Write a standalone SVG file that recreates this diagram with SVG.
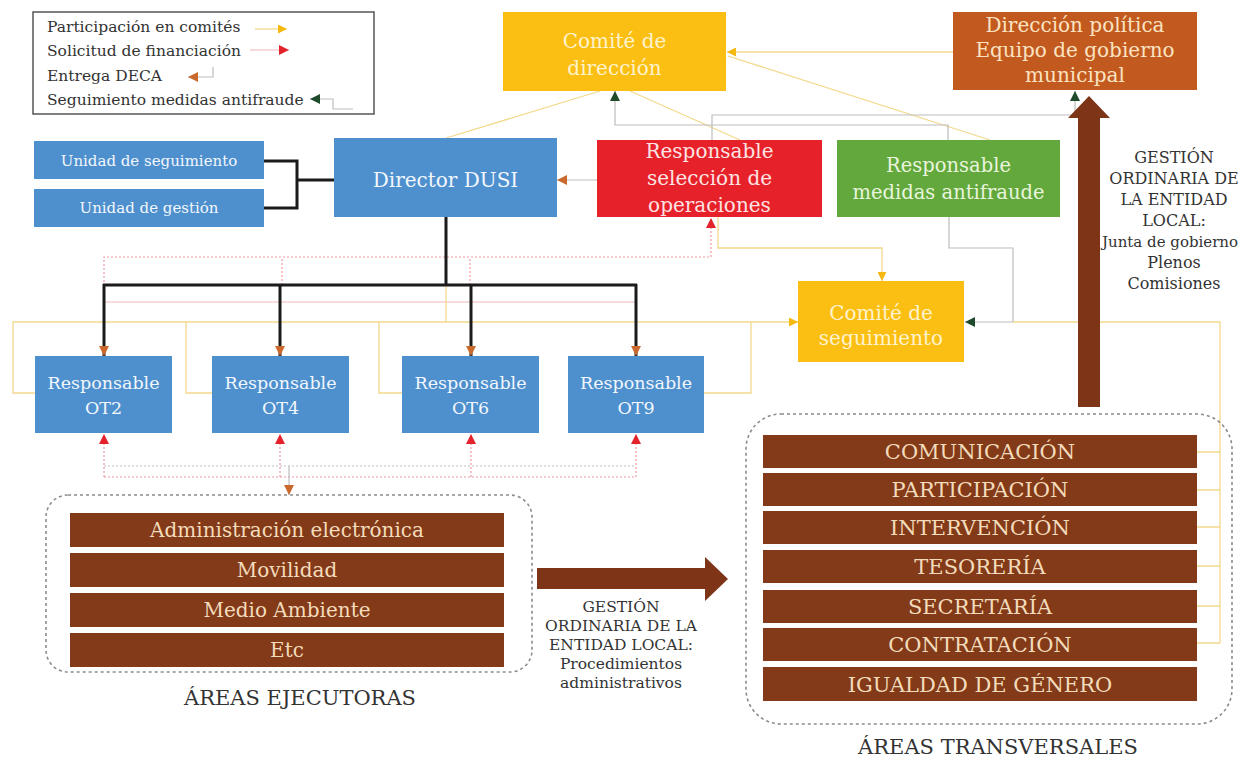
<svg xmlns="http://www.w3.org/2000/svg" width="1241" height="759" viewBox="0 0 1241 759">
<style>
text{font-family:"DejaVu Serif","Liberation Serif",serif;text-anchor:middle}
.lg{text-anchor:start;font-size:15.5px;fill:#333}
.blue{fill:#4E8FCE}
.wt{fill:#F2F7FC}
.bar{fill:#833A18}
.bt{fill:#F3DCBC;font-size:20px}
.tt{fill:#F3DCBC;font-size:21px}
.dk{fill:#333}
.blk{stroke:#1b1b1b;stroke-width:3;fill:none}
.yl{stroke:#F3D98C;stroke-width:1.3;fill:none}
.pk{stroke:#EE9AA2;stroke-width:1.2;fill:none;stroke-dasharray:2 2}
.pks{stroke:#F2B5BA;stroke-width:1.1;fill:none}
.gr{stroke:#BDBDBD;stroke-width:1.2;fill:none}
.dash{fill:none;stroke:#8C8C8C;stroke-width:1.6;stroke-dasharray:3 3}
.big{fill:#7E3517}
</style>
<defs>
<marker id="mO" viewBox="0 0 10 10" refX="10" refY="5" markerWidth="10" markerHeight="10" markerUnits="userSpaceOnUse" orient="auto"><path d="M0,0 L10,5 L0,10 z" fill="#C96A2C"/></marker>
<marker id="mR" viewBox="0 0 10 10" refX="10" refY="5" markerWidth="10" markerHeight="10" markerUnits="userSpaceOnUse" orient="auto"><path d="M0,0 L10,5 L0,10 z" fill="#E4222B"/></marker>
<marker id="mY" viewBox="0 0 10 10" refX="10" refY="5" markerWidth="9" markerHeight="9" markerUnits="userSpaceOnUse" orient="auto"><path d="M0,0 L10,5 L0,10 z" fill="#F5B80F"/></marker>
<marker id="mD" viewBox="0 0 10 10" refX="10" refY="5" markerWidth="10" markerHeight="10" markerUnits="userSpaceOnUse" orient="auto"><path d="M0,0 L10,5 L0,10 z" fill="#1F4A2C"/></marker>
</defs>
<rect width="1241" height="759" fill="#ffffff"/>

<g id="legend">
<rect x="33" y="12" width="341" height="102" fill="#fff" stroke="#555" stroke-width="1.5"/>
<text class="lg" x="47" y="32">Participación en comités</text>
<text class="lg" x="47" y="56">Solicitud de financiación</text>
<text class="lg" x="47" y="81">Entrega DECA</text>
<text class="lg" x="47" y="105">Seguimiento medidas antifraude</text>
<path class="yl" d="M255,29 H287" marker-end="url(#mY)"/>
<path class="pks" d="M250,50 H289" marker-end="url(#mR)"/>
<path class="gr" d="M213,67 V77 H188" marker-end="url(#mO)"/>
<path class="gr" d="M353,109 H333 V99 H310" marker-end="url(#mD)"/>
</g>

<g id="connectors">
<path class="yl" d="M446,138 L600,91"/>
<path class="yl" d="M740,140 L630,91"/>
<path class="yl" d="M990,140 L728,56"/>
<path class="yl" d="M953,52 H727" marker-end="url(#mY)"/>
<path class="gr" d="M948,140 V125 H615 V91" marker-end="url(#mD)"/>
<path class="gr" d="M712,140 V115 H1075 V91" marker-end="url(#mD)"/>
<path class="gr" d="M597,180 H557" marker-end="url(#mO)"/>
<path class="pk" d="M104,290 V257 H711 V218" marker-end="url(#mR)"/>
<path class="pk" d="M282,285 V257 M470,285 V257"/>
<path class="pks" d="M104,302 H636"/>
<path class="yl" d="M718,217 V248 H882 V281" marker-end="url(#mY)"/>
<path class="gr" d="M949,217 V248 H1013 V322 H965" marker-end="url(#mD)"/>
<path class="yl" d="M35,393 H13 V322 H798" marker-end="url(#mY)"/>
<path class="yl" d="M212,393 H186 V322 M402,393 H379 V322 M704,393 H751 V322 M446,285 V322"/>
<path class="yl" d="M1013,322 H1220 V643"/>
<path class="yl" d="M1197,452 H1220 M1197,490 H1220 M1197,527 H1220 M1197,566 H1220 M1197,606 H1220 M1197,643 H1220"/>
<path class="blk" d="M264,161 H297 V208 H264 M297,180 H334"/>
<path class="blk" d="M446,217 V285 M103,285 H637"/>
<path class="blk" d="M104,284 V356" marker-end="url(#mO)"/>
<path class="blk" d="M280,284 V356" marker-end="url(#mO)"/>
<path class="blk" d="M471,284 V356" marker-end="url(#mO)"/>
<path class="blk" d="M636,284 V356" marker-end="url(#mO)"/>
<path class="pk" d="M104,477 V434" marker-end="url(#mR)"/>
<path class="pk" d="M280,477 V434" marker-end="url(#mR)"/>
<path class="pk" d="M471,477 V434" marker-end="url(#mR)"/>
<path class="pk" d="M636,477 V434" marker-end="url(#mR)"/>
<path class="pk" d="M104,477 H636"/>
<path class="gr" d="M104,466 H636" stroke-dasharray="2 2"/>
<path class="gr" d="M289,466 V495" stroke="#C96A2C" marker-end="url(#mO)"/>
</g>

<g id="n-comite-direccion">
<rect x="503" y="12" width="223" height="79" fill="#FBBE12"/>
<text x="614.5" y="48" font-size="20" fill="#FFF3CC">Comité de</text>
<text x="614.5" y="75" font-size="20" fill="#FFF3CC">dirección</text>
</g>
<g id="n-direccion-politica">
<rect x="953" y="12" width="244" height="78" fill="#C25A1F"/>
<text x="1075" y="32" font-size="20" fill="#FBE3C2">Dirección política</text>
<text x="1075" y="57" font-size="20" fill="#FBE3C2">Equipo de gobierno</text>
<text x="1075" y="82" font-size="20" fill="#FBE3C2">municipal</text>
</g>
<g id="n-unidad-seguimiento">
<rect class="blue" x="34" y="141" width="230" height="38"/>
<text class="wt" x="149" y="166" font-size="15">Unidad de seguimiento</text>
</g>
<g id="n-unidad-gestion">
<rect class="blue" x="34" y="189" width="230" height="38"/>
<text class="wt" x="149" y="213" font-size="15">Unidad de gestión</text>
</g>
<g id="n-director">
<rect class="blue" x="334" y="138" width="223" height="79"/>
<text class="wt" x="445.5" y="187" font-size="20">Director DUSI</text>
</g>
<g id="n-seleccion">
<rect x="597" y="140" width="225" height="77" fill="#E62129"/>
<text x="709.5" y="158" font-size="20" fill="#FDE3E3">Responsable</text>
<text x="709.5" y="185" font-size="20" fill="#FDE3E3">selección de</text>
<text x="709.5" y="212" font-size="20" fill="#FDE3E3">operaciones</text>
</g>
<g id="n-antifraude">
<rect x="837" y="140" width="223" height="77" fill="#63A83D"/>
<text x="948.5" y="172" font-size="19.5" fill="#E8F5DC">Responsable</text>
<text x="948.5" y="199" font-size="19.5" fill="#E8F5DC">medidas antifraude</text>
</g>
<g id="n-comite-seguimiento">
<rect x="798" y="281" width="166" height="81" fill="#FBBE12"/>
<text x="881" y="320" font-size="20" fill="#FFF3CC">Comité de</text>
<text x="881" y="345" font-size="20" fill="#FFF3CC">seguimiento</text>
</g>
<g id="n-ot2">
<rect class="blue" x="35" y="356" width="137" height="77"/>
<text class="wt" x="103.5" y="389" font-size="17.5">Responsable</text>
<text class="wt" x="103.5" y="414" font-size="17.5">OT2</text>
</g>
<g id="n-ot4">
<rect class="blue" x="212" y="356" width="137" height="77"/>
<text class="wt" x="280.5" y="389" font-size="17.5">Responsable</text>
<text class="wt" x="280.5" y="414" font-size="17.5">OT4</text>
</g>
<g id="n-ot6">
<rect class="blue" x="402" y="356" width="137" height="77"/>
<text class="wt" x="470.5" y="389" font-size="17.5">Responsable</text>
<text class="wt" x="470.5" y="414" font-size="17.5">OT6</text>
</g>
<g id="n-ot9">
<rect class="blue" x="568" y="356" width="136" height="77"/>
<text class="wt" x="636" y="389" font-size="17.5">Responsable</text>
<text class="wt" x="636" y="414" font-size="17.5">OT9</text>
</g>

<g id="n-areas-ejecutoras">
<rect class="dash" x="46" y="495" width="486" height="177" rx="22"/>
<rect class="bar" x="70" y="513" width="434" height="34"/>
<text class="bt" x="287" y="537">Administración electrónica</text>
<rect class="bar" x="70" y="553" width="434" height="34"/>
<text class="bt" x="287" y="577">Movilidad</text>
<rect class="bar" x="70" y="593" width="434" height="34"/>
<text class="bt" x="287" y="617">Medio Ambiente</text>
<rect class="bar" x="70" y="633" width="434" height="34"/>
<text class="bt" x="287" y="657">Etc</text>
<text class="dk" x="300" y="705" font-size="21">ÁREAS EJECUTORAS</text>
</g>

<g id="n-areas-transversales">
<rect class="dash" x="746" y="414" width="486" height="310" rx="35"/>
<rect class="bar" x="763" y="435" width="434" height="33"/>
<text class="tt" x="980" y="459">COMUNICACIÓN</text>
<rect class="bar" x="763" y="473" width="434" height="33"/>
<text class="tt" x="980" y="497">PARTICIPACIÓN</text>
<rect class="bar" x="763" y="511" width="434" height="33"/>
<text class="tt" x="980" y="535">INTERVENCIÓN</text>
<rect class="bar" x="763" y="550" width="434" height="33"/>
<text class="tt" x="980" y="574">TESORERÍA</text>
<rect class="bar" x="763" y="590" width="434" height="33"/>
<text class="tt" x="980" y="614">SECRETARÍA</text>
<rect class="bar" x="763" y="628" width="434" height="33"/>
<text class="tt" x="980" y="652">CONTRATACIÓN</text>
<rect class="bar" x="763" y="667" width="434" height="34"/>
<text class="tt" x="980" y="692">IGUALDAD DE GÉNERO</text>
<text class="dk" x="998" y="754" font-size="21">ÁREAS TRANSVERSALES</text>
</g>

<g id="n-gestion-procedimientos">
<path class="big" d="M537,568 H705 V557 L728,579 L705,601 V589 H537 Z"/>
<text class="dk" x="621" y="612" font-size="15.5">GESTIÓN</text>
<text class="dk" x="621" y="631" font-size="15.5">ORDINARIA DE LA</text>
<text class="dk" x="621" y="650" font-size="15.5">ENTIDAD LOCAL:</text>
<text class="dk" x="621" y="669" font-size="15.5">Procedimientos</text>
<text class="dk" x="621" y="688" font-size="15.5">administrativos</text>
</g>

<g id="n-gestion-junta">
<path class="big" d="M1078,407 V118 H1068 L1089,96 L1110,118 H1100 V407 Z"/>
<text class="dk" x="1174" y="163" font-size="16">GESTIÓN</text>
<text class="dk" x="1174" y="184" font-size="16">ORDINARIA DE</text>
<text class="dk" x="1174" y="205" font-size="16">LA ENTIDAD</text>
<text class="dk" x="1174" y="226" font-size="16">LOCAL:</text>
<text class="dk" x="1170" y="247" font-size="15">Junta de gobierno</text>
<text class="dk" x="1174" y="268" font-size="16">Plenos</text>
<text class="dk" x="1174" y="289" font-size="16">Comisiones</text>
</g>
</svg>
